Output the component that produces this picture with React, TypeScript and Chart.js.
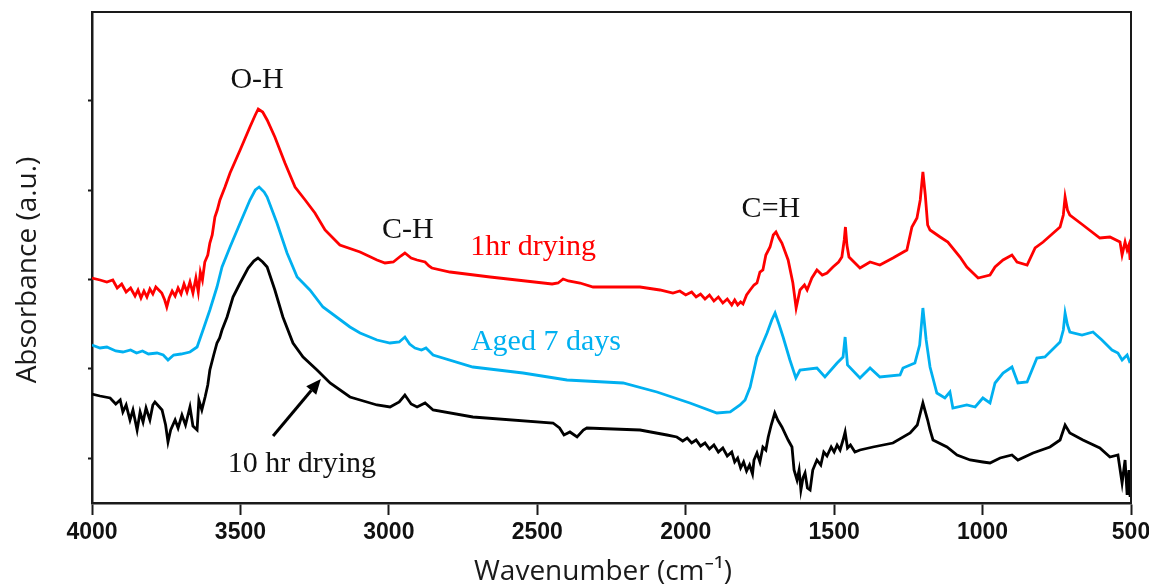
import React, { useEffect, useRef } from "react";
import { Chart, registerables } from "chart.js";

Chart.register(...registerables);

// ---------- data (wavenumber cm^-1, absorbance a.u.) ----------
const redWn = [4000,3973,3950,3930,3915,3900,3885,3870,3855,3845,3835,3825,3815,3805,3795,3785,3775,3765,3755,3748,3740,3730,3720,3710,3700,3690,3680,3670,3660,3650,3642,3635,3628,3620,3610,3603,3595,3586,3578,3569,3552,3535,3501,3468,3450,3440,3425,3410,3384,3350,3316,3282,3249,3215,3165,3097,3040,3013,2985,2960,2946,2925,2905,2878,2865,2855,2794,2659,2450,2430,2413,2395,2356,2312,2154,2087,2043,2020,2000,1980,1965,1950,1935,1920,1905,1890,1875,1860,1845,1835,1825,1815,1807,1795,1783,1770,1760,1750,1740,1730,1716,1705,1696,1686,1676,1655,1639,1628,1615,1600,1591,1575,1558,1540,1524,1504,1485,1474,1466,1462,1457,1450,1413,1379,1346,1302,1255,1238,1221,1210,1201,1193,1185,1177,1143,1117,1076,1053,1015,975,958,931,901,884,850,823,796,739,728,722,714,706,662,605,571,537,530,520,513,507,503];
const redAbs = [2.25,2.23,2.21,2.23,2.15,2.19,2.11,2.15,2.07,2.13,2.05,2.12,2.06,2.14,2.09,2.16,2.13,2.10,2.03,1.96,2.05,2.12,2.07,2.15,2.09,2.19,2.11,2.21,2.10,2.25,2.11,2.31,2.23,2.41,2.48,2.60,2.68,2.86,2.93,3.03,3.16,3.30,3.53,3.76,3.88,3.94,3.91,3.83,3.66,3.40,3.16,3.03,2.90,2.73,2.58,2.51,2.43,2.40,2.41,2.47,2.50,2.45,2.43,2.41,2.37,2.35,2.31,2.26,2.19,2.20,2.24,2.22,2.20,2.16,2.16,2.13,2.10,2.12,2.08,2.11,2.06,2.09,2.04,2.08,2.02,2.06,2.00,2.04,1.98,2.03,1.98,2.01,1.99,2.08,2.13,2.18,2.20,2.31,2.33,2.48,2.56,2.68,2.71,2.65,2.60,2.43,2.20,1.95,2.13,2.18,2.13,2.25,2.33,2.28,2.30,2.36,2.41,2.46,2.63,2.76,2.58,2.46,2.35,2.41,2.38,2.45,2.53,2.76,2.85,3.03,3.31,3.08,2.78,2.73,2.66,2.61,2.46,2.36,2.25,2.28,2.36,2.43,2.48,2.41,2.38,2.55,2.61,2.76,2.88,3.06,2.93,2.88,2.78,2.65,2.66,2.61,2.48,2.61,2.53,2.58,2.43];

const blueWn = [4000,3973,3950,3920,3896,3870,3850,3830,3810,3781,3760,3744,3725,3700,3670,3646,3626,3603,3579,3562,3535,3501,3468,3450,3437,3420,3410,3377,3343,3309,3266,3222,3131,3097,3040,2996,2965,2946,2930,2912,2890,2875,2851,2717,2548,2400,2211,2097,1986,1895,1850,1817,1800,1783,1760,1726,1710,1699,1685,1672,1649,1629,1615,1558,1531,1490,1470,1463,1455,1413,1379,1346,1278,1268,1228,1212,1201,1190,1177,1154,1127,1110,1100,1053,1025,999,975,958,931,901,881,850,817,790,739,728,722,714,706,665,628,598,564,544,530,513,503];
const blueAbs = [1.58,1.55,1.56,1.52,1.51,1.53,1.50,1.52,1.49,1.50,1.48,1.43,1.48,1.49,1.51,1.56,1.73,1.93,2.16,2.36,2.56,2.80,3.03,3.13,3.16,3.11,3.06,2.80,2.50,2.26,2.13,1.96,1.76,1.70,1.63,1.60,1.61,1.66,1.59,1.55,1.53,1.55,1.48,1.36,1.30,1.23,1.20,1.11,1.00,0.90,0.91,0.98,1.03,1.16,1.46,1.70,1.83,1.90,1.78,1.66,1.43,1.25,1.33,1.35,1.26,1.40,1.46,1.66,1.38,1.25,1.35,1.26,1.28,1.35,1.40,1.58,1.95,1.63,1.36,1.10,1.05,1.11,0.95,0.98,0.96,1.05,1.00,1.20,1.30,1.36,1.20,1.21,1.45,1.46,1.61,1.73,1.90,1.78,1.71,1.68,1.71,1.63,1.53,1.50,1.43,1.48,1.40];

const blackWn = [4000,3973,3939,3920,3905,3896,3885,3872,3862,3848,3838,3828,3818,3805,3795,3788,3776,3764,3752,3744,3735,3720,3710,3697,3685,3670,3660,3646,3640,3630,3619,3610,3603,3590,3579,3570,3562,3545,3525,3501,3474,3455,3441,3425,3410,3384,3357,3323,3289,3242,3198,3131,3097,3040,2996,2965,2946,2925,2905,2878,2851,2717,2447,2425,2410,2390,2366,2345,2333,2154,2063,2030,2010,1995,1980,1965,1950,1935,1920,1905,1890,1875,1860,1845,1835,1825,1815,1805,1795,1785,1775,1770,1760,1750,1740,1730,1722,1712,1700,1690,1676,1655,1642,1635,1625,1618,1612,1605,1598,1590,1581,1572,1558,1545,1535,1524,1510,1500,1490,1480,1470,1463,1455,1445,1430,1413,1369,1302,1244,1220,1201,1185,1177,1167,1120,1086,1042,999,975,941,901,881,830,773,739,722,706,662,605,571,544,530,520,513,507,503];
const blackAbs = [1.09,1.07,1.05,0.99,1.03,0.91,0.98,0.83,0.93,0.73,0.91,0.81,0.95,0.83,0.98,1.01,0.97,0.93,0.78,0.61,0.73,0.83,0.75,0.88,0.78,0.96,0.77,0.73,1.03,0.93,1.06,1.18,1.33,1.48,1.60,1.65,1.73,1.86,2.06,2.20,2.35,2.42,2.45,2.41,2.36,2.13,1.86,1.60,1.46,1.33,1.20,1.06,1.03,0.98,0.96,1.01,1.08,0.99,0.96,1.00,0.93,0.86,0.80,0.75,0.68,0.71,0.66,0.73,0.75,0.73,0.68,0.66,0.62,0.65,0.60,0.63,0.57,0.60,0.54,0.58,0.51,0.55,0.47,0.51,0.41,0.45,0.35,0.41,0.32,0.38,0.29,0.43,0.50,0.41,0.56,0.53,0.66,0.78,0.90,0.83,0.76,0.63,0.56,0.33,0.23,0.33,0.13,0.25,0.30,0.15,0.13,0.33,0.43,0.38,0.51,0.47,0.56,0.51,0.58,0.53,0.63,0.71,0.55,0.58,0.51,0.53,0.56,0.60,0.70,0.78,1.00,0.83,0.73,0.63,0.56,0.48,0.43,0.41,0.40,0.45,0.48,0.43,0.50,0.56,0.63,0.78,0.70,0.63,0.55,0.46,0.48,0.20,0.43,0.08,0.33,0.06];

const xTicks = [4000, 3500, 3000, 2500, 2000, 1500, 1000, 500];
const yTicks = [0.45, 1.343, 2.236, 3.129, 4.022];

const labelTexts = ["O-H", "C-H", "1hr drying", "Aged 7 days", "C=H", "10 hr drying"];
const labelWn = [3444, 2936, 2514, 2471, 1713, 3293];
const labelAbs = [4.15, 2.65, 2.48, 1.53, 2.86, 0.31];
const labelColors = ["#111111", "#111111", "#ff0000", "#00b0f0", "#111111", "#111111"];

const arrowWn = [3390, 3229];
const arrowAbs = [0.67, 1.24];

const seriesNames = ["1hr drying", "Aged 7 days", "10 hr drying"];
const seriesColors = ["#ff0000", "#00b0f0", "#000000"];

const toPts = (w: number[], a: number[]) => w.map((x, i) => ({ x, y: a[i] }));

const overlayPlugin = {
  id: "overlay",
  afterDraw(chart: any) {
    const { ctx, chartArea, scales } = chart;
    const xs = scales.x;
    const ys = scales.y;
    ctx.save();
    // frame top/right
    ctx.strokeStyle = "#1a1a1a";
    ctx.lineWidth = 2;
    ctx.beginPath();
    ctx.moveTo(chartArea.left, chartArea.top);
    ctx.lineTo(chartArea.right, chartArea.top);
    ctx.lineTo(chartArea.right, chartArea.bottom);
    ctx.stroke();

    // annotations
    ctx.font = '30px "Liberation Serif", "Times New Roman", serif';
    ctx.textAlign = "center";
    ctx.textBaseline = "alphabetic";
    labelTexts.forEach((t, i) => {
      ctx.fillStyle = labelColors[i];
      ctx.fillText(t, xs.getPixelForValue(labelWn[i]), ys.getPixelForValue(labelAbs[i]));
    });

    // arrow
    const x0 = xs.getPixelForValue(arrowWn[0]);
    const y0 = ys.getPixelForValue(arrowAbs[0]);
    const x1 = xs.getPixelForValue(arrowWn[1]);
    const y1 = ys.getPixelForValue(arrowAbs[1]);
    const ang = Math.atan2(y1 - y0, x1 - x0);
    const head = 15;
    const bx = x1 - head * Math.cos(ang);
    const by = y1 - head * Math.sin(ang);
    ctx.strokeStyle = "#000";
    ctx.lineWidth = 3;
    ctx.beginPath();
    ctx.moveTo(x0, y0);
    ctx.lineTo(bx, by);
    ctx.stroke();
    ctx.fillStyle = "#000";
    ctx.beginPath();
    ctx.moveTo(x1, y1);
    ctx.lineTo(bx + 6.5 * Math.sin(ang), by - 6.5 * Math.cos(ang));
    ctx.lineTo(bx - 6.5 * Math.sin(ang), by + 6.5 * Math.cos(ang));
    ctx.closePath();
    ctx.fill();

    // axis titles
    ctx.fillStyle = "#1a1a1a";
    ctx.font = '28px "Open Sans", "Noto Sans", sans-serif';
    ctx.textAlign = "center";
    ctx.textBaseline = "middle";
    ctx.fillText("Wavenumber (cm\u207B\u00B9)", 603, 572);
    ctx.translate(28, 270);
    ctx.rotate(-Math.PI / 2);
    ctx.fillText("Absorbance (a.u.)", 0, 0);
    ctx.restore();
  },
};

export default function App() {
  const ref = useRef<HTMLCanvasElement | null>(null);
  useEffect(() => {
    if (!ref.current) return;
    const chart = new Chart(ref.current, {
      type: "line",
      data: {
        datasets: [
          { label: seriesNames[0], data: toPts(redWn, redAbs), borderColor: seriesColors[0] },
          { label: seriesNames[1], data: toPts(blueWn, blueAbs), borderColor: seriesColors[1] },
          { label: seriesNames[2], data: toPts(blackWn, blackAbs), borderColor: seriesColors[2] },
        ].map((d) => ({ ...d, borderWidth: 2.8, pointRadius: 0, tension: 0, fill: false })),
      },
      options: {
        animation: false,
        responsive: false,
        events: [],
        layout: { padding: { left: 0, top: 12, right: 18, bottom: 0 } },
        plugins: { legend: { display: false }, tooltip: { enabled: false } },
        scales: {
          x: {
            type: "linear",
            reverse: true,
            min: 500,
            max: 4000,
            afterBuildTicks: (s: any) => {
              s.ticks = xTicks.map((v) => ({ value: v }));
            },
            afterFit: (s: any) => {
              s.height = 85;
              s.paddingLeft = 0;
              s.paddingRight = 0;
            },
            ticks: {
              callback: (v: any) => String(v),
              color: "#111",
              font: { family: '"Liberation Sans", Arial, sans-serif', size: 23, weight: "bold" },
              padding: 4,
              maxRotation: 0,
              autoSkip: false,
            },
            grid: { drawOnChartArea: false, drawTicks: true, tickLength: 12, tickWidth: 2, tickColor: "#1a1a1a" },
            border: { display: true, color: "#1a1a1a", width: 2.5 },
          },
          y: {
            type: "linear",
            min: 0,
            max: 4.91,
            afterBuildTicks: (s: any) => {
              s.ticks = yTicks.map((v) => ({ value: v }));
            },
            afterFit: (s: any) => {
              s.width = 92;
              s.paddingTop = 0;
              s.paddingBottom = 0;
            },
            ticks: { callback: () => "", padding: 0 },
            grid: { drawOnChartArea: false, drawTicks: true, tickLength: 4, tickWidth: 2, tickColor: "#1a1a1a" },
            border: { display: true, color: "#1a1a1a", width: 2.5 },
          },
        },
      },
      plugins: [overlayPlugin],
    });
    return () => chart.destroy();
  }, []);
  return (
    <div style={{ position: "absolute", left: 0, top: 0, width: 1149, height: 588, background: "#fff" }}>
      <canvas ref={ref} width={1149} height={588} />
    </div>
  );
}
